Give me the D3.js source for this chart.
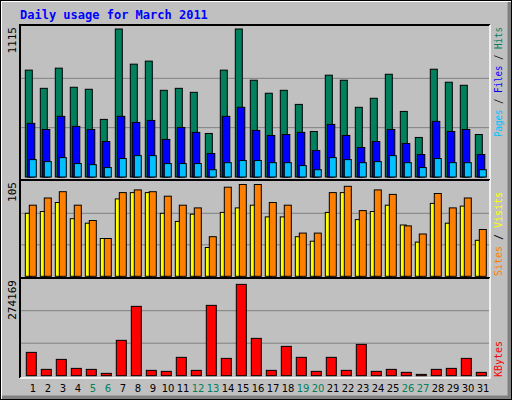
<!DOCTYPE html>
<html><head><meta charset="utf-8">
<script src="https://cdn.jsdelivr.net/npm/d3@7"></script>
<style>body{margin:0;background:#fff}</style>
</head><body><div id="chart"></div>
<script>
const days = d3.range(1, 32);
const weekends = [5, 6, 12, 13, 19, 20, 26, 27];
const hits = [805,668,820,676,661,434,1115,850,873,653,668,638,328,805,1115,729,631,653,547,343,767,729,525,593,774,494,298,812,714,691,320];
const files = [404,358,457,381,358,267,457,411,426,283,373,336,177,457,525,351,313,320,336,199,396,313,222,267,358,252,169,419,343,358,169];
const pages = [131,116,146,101,93,71,139,161,161,101,101,101,55,108,124,124,108,108,86,55,146,131,108,116,161,108,71,139,108,108,55];
const sites = [70,72,82,64,59,42,86,93,93,70,61,69,32,71,76,79,66,66,44,39,71,93,63,72,79,57,38,81,59,78,40];
const visits = [79,87,94,79,62,42,93,96,94,89,79,76,44,99,102,102,82,79,48,48,93,100,73,96,91,56,47,92,76,87,52];
const kbytes = [65600,17800,45900,20600,17800,6600,99400,195000,15000,12200,51600,15000,197800,48700,256800,105000,15000,82500,51600,12200,51600,15000,88100,12200,17800,9400,3700,17800,20600,48700,9400];
const maxLabels = ["1115", "105", "274169"];

const W = 512, H = 400;
const svg = d3.select("#chart").append("svg").attr("width", W).attr("height", H)
  .style("font-family", "'DejaVu Sans Mono', monospace");

// background with bevel
svg.append("rect").attr("width", W).attr("height", H).attr("fill", "#c0c0c0");
svg.append("path").attr("d", `M1,${H-1} V1 H${W-1}`).attr("stroke", "#fff").attr("stroke-width", 2).attr("fill", "none");
svg.append("path").attr("d", `M2,${H-2} H${W-2} V2`).attr("stroke", "#808080").attr("stroke-width", 5).attr("fill", "none");
svg.append("rect").attr("x", 0.5).attr("y", 0.5).attr("width", W - 1).attr("height", H - 1).attr("fill", "none").attr("stroke", "#000");

svg.append("text").attr("x", 20).attr("y", 19).attr("fill", "#0000ff")
  .attr("font-size", 12).attr("font-weight", "bold").text("Daily usage for March 2011");

const x = d3.scaleLinear().domain([1, 31]).range([25.3, 475.3]);

const panels = [
  { top: 25, bottom: 180, y0: 177, y1: 29, max: 1115, label: maxLabels[0] },
  { top: 180, bottom: 278, y0: 276.3, y1: 181.8, max: 105, label: maxLabels[1] },
  { top: 278, bottom: 378, y0: 375.7, y1: 278.2, max: 274169, label: maxLabels[2] }
];

panels.forEach((p) => {
  p.y = d3.scaleLinear().domain([0, p.max]).range([p.y0, p.y1]);
  svg.append("path").attr("d", `M20,${p.bottom} V${p.top} H490`).attr("stroke", "#000").attr("stroke-width", 2).attr("fill", "none");
  svg.append("path").attr("d", `M20,${p.bottom} H490 V${p.top}`).attr("stroke", "#fff").attr("stroke-width", 1.5).attr("fill", "none");
  svg.selectAll(null).data([p.max / 3, p.max * 2 / 3]).enter().append("line")
    .attr("x1", 21).attr("x2", 489).attr("y1", (d) => p.y(d)).attr("y2", (d) => p.y(d))
    .attr("stroke", "#808080").attr("stroke-width", 1);
  svg.append("text").attr("transform", `translate(16,${p.top + 2}) rotate(-90)`)
    .attr("text-anchor", "end").attr("font-size", 11).attr("fill", "#000").text(p.label);
});

function bars(values, panel, offset, width, color) {
  svg.append("g").selectAll("rect").data(values).enter().append("rect")
    .attr("x", (d, i) => x(days[i]) + offset)
    .attr("y", (d) => panel.y(d))
    .attr("width", width)
    .attr("height", (d) => panel.y0 - panel.y(d))
    .attr("fill", color).attr("stroke", "#000").attr("stroke-width", 1);
}

bars(hits, panels[0], 0, 7, "#00805c");
bars(files, panels[0], 2, 7.5, "#0000ff");
bars(pages, panels[0], 4, 7, "#00c0ff");
bars(sites, panels[1], 0, 6, "#ffff00");
bars(visits, panels[1], 4, 7, "#ff8000");
bars(kbytes, panels[2], 1, 10, "#ff0000");

svg.append("g").selectAll("text").data(days).enter().append("text")
  .attr("x", (d) => x(d) + 7.7).attr("y", 392).attr("text-anchor", "middle")
  .attr("font-size", 10).style("font-family", "'DejaVu Sans', sans-serif")
  .attr("fill", (d) => weekends.includes(d) ? "#00805c" : "#000").text((d) => d);

// right side legends
function legend(parts, yEnd, len) {
  const t = svg.append("text").attr("transform", `translate(502,${yEnd}) rotate(-90)`)
    .attr("font-size", 10).attr("textLength", len).attr("lengthAdjust", "spacingAndGlyphs");
  parts.forEach(([s, c]) => t.append("tspan").attr("fill", c).text(s));
}
legend([["Pages", "#00c0ff"], [" / ", "#000"], ["Files", "#0000ff"], [" / ", "#000"], ["Hits", "#00805c"]], 137, 110);
legend([["Sites", "#ff8000"], [" / ", "#000"], ["Visits", "#ffff00"]], 276, 84);
legend([["KBytes", "#ff0000"]], 377, 36);
</script></body></html>
